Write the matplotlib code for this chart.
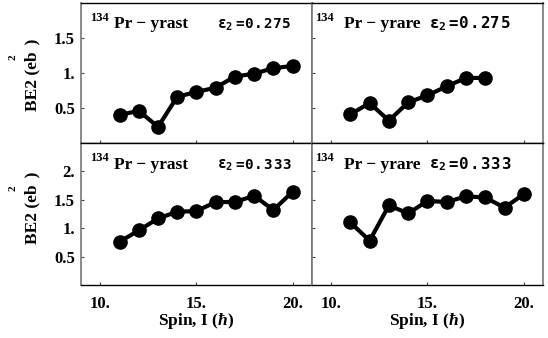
import matplotlib
matplotlib.use("Agg")
import matplotlib.pyplot as plt

plt.rcParams["mathtext.fontset"] = "custom"
plt.rcParams["mathtext.rm"] = "DejaVu Sans Mono:bold"
plt.rcParams["mathtext.it"] = "Liberation Serif:bold:italic"
plt.rcParams["mathtext.bf"] = "Liberation Serif:bold"

# B(E2) values of 134Pr
spin_yrast = [11, 12, 13, 14, 15, 16, 17, 18, 19, 20]
spin_yrare_275 = [11, 12, 13, 14, 15, 16, 17, 18]
be2_yrast_275 = [0.40, 0.46, 0.23, 0.66, 0.73, 0.79, 0.95, 0.99, 1.07, 1.10]
be2_yrare_275 = [0.41, 0.57, 0.32, 0.58, 0.68, 0.81, 0.93, 0.93]
be2_yrast_333 = [0.76, 0.96, 1.17, 1.29, 1.30, 1.46, 1.46, 1.57, 1.32, 1.64]
be2_yrare_333 = [1.10, 0.78, 1.40, 1.26, 1.48, 1.46, 1.56, 1.54, 1.36, 1.60]

x_ticks = [10, 15, 20]
x_labels = ["10.", "15.", "20."]
y_ticks_top = [0.5, 1.0, 1.5]
y_labels_top = ["0.5", "1.", "1.5"]
y_ticks_bot = [0.5, 1.0, 1.5, 2.0]
y_labels_bot = ["0.5", "1.", "1.5", "2."]

panels = [
    # row, col, spins, values, band, eps, ylim
    (0, 0, spin_yrast, be2_yrast_275, "yrast", "0.275", 2.0),
    (0, 1, spin_yrare_275, be2_yrare_275, "yrare", "0.275", 2.0),
    (1, 0, spin_yrast, be2_yrast_333, "yrast", "0.333", 2.5),
    (1, 1, spin_yrast, be2_yrare_333, "yrare", "0.333", 2.5),
]

serif = "Liberation Serif"
mono = "DejaVu Sans Mono"


def eps_label(ax, x, y, value, scale=1.0):
    """Widely spaced monospace 'eps_2=value', one glyph at a time."""
    ax.annotate(r"$\mathrm{\varepsilon_2}$", (x, y), xycoords="axes fraction",
                family=mono, fontweight="bold", fontsize=10.5 * scale,
                va="baseline")
    for k, ch in enumerate("=" + value):
        ax.annotate(ch, (x, y), xycoords="axes fraction",
                    xytext=((13.0 + 6.8 * k) * scale, 0),
                    textcoords="offset points", family=mono,
                    fontweight="bold", fontsize=10.3 * scale, va="baseline")


fig = plt.figure(figsize=(5.48, 3.38), dpi=100)
left, mid, right = 0.148, 0.569, 0.991
top, hmid, bottom = 0.991, 0.577, 0.157

for row, col, xs, ys, band, eps, ymax in panels:
    x0 = left if col == 0 else mid
    x1 = mid if col == 0 else right
    y0 = hmid if row == 0 else bottom
    y1 = top if row == 0 else hmid
    ax = fig.add_axes([x0, y0, x1 - x0, y1 - y0])
    ax.plot(xs, ys, color="black", lw=3, marker="o", ms=9.5)
    ax.set_xlim(9, 21)
    ax.set_ylim(0, ymax)
    ax.set_xticks(x_ticks)
    if row == 0:
        ax.set_yticks(y_ticks_top)
        ax.set_yticklabels(y_labels_top if col == 0 else [])
    else:
        ax.set_yticks(y_ticks_bot)
        ax.set_yticklabels(y_labels_bot if col == 0 else [])
    ax.set_xticklabels(x_labels if row == 1 else [])
    ax.tick_params(direction="in", length=2.5, width=0.8, colors="#444444",
                   labelcolor="black")
    ax.tick_params(axis="y", pad=4.5)
    ax.tick_params(axis="x", pad=8)
    for lab in ax.get_xticklabels() + ax.get_yticklabels():
        lab.set_fontfamily(serif)
        lab.set_fontweight("bold")
        lab.set_fontsize(12)
    for side in ("left", "right"):
        ax.spines[side].set_color("#777777")
        ax.spines[side].set_linewidth(1.2)
    for side in ("top", "bottom"):
        ax.spines[side].set_color("black")
        ax.spines[side].set_linewidth(1.0)

    # panel labels
    sx, px, ex = (0.04, 0.143, 0.589) if col == 0 else (0.015, 0.14, 0.506)
    ax.text(sx, 0.871, "134", transform=ax.transAxes, family=serif,
            fontweight="bold", fontsize=9, va="baseline")
    ax.text(px, 0.82, "Pr \u2212 " + band, transform=ax.transAxes,
            family=serif, fontweight="bold", fontsize=12.5, va="baseline")
    eps_label(ax, ex, 0.82, eps, 1.0 if col == 0 else 1.1)

    if col == 0:
        ax.set_ylabel("BE2 (eb\u2009\u2009)", family=serif,
                      fontweight="bold", fontsize=12.5)
        ax.yaxis.set_label_coords(-0.175, 0.49 if row == 0 else 0.54)
        # superscript 2 sits well away from the label, as in the original
        ax.text(-0.294, 0.614 if row == 0 else 0.683, "2",
                transform=ax.transAxes, family=serif, fontweight="bold",
                fontsize=8, rotation=90, ha="center", va="center")
    if row == 1:
        ax.set_xlabel(r"Spin, I ($\hbar$)", family=serif, fontweight="bold",
                      fontsize=12.5, labelpad=-1)

fig.savefig("out.png", dpi=100)
